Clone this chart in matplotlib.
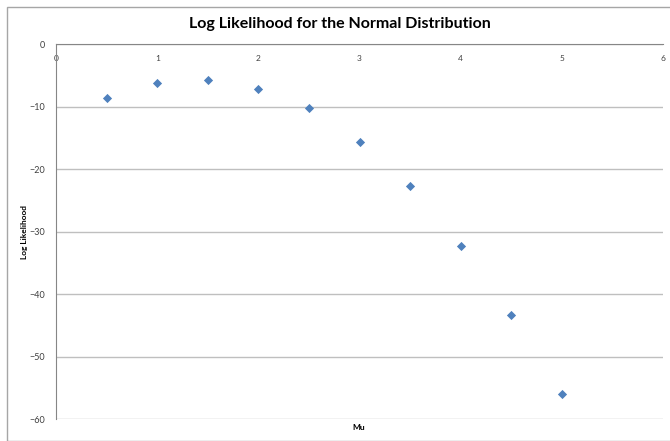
import matplotlib.pyplot as plt
from matplotlib.patches import Rectangle

# Dados
mu = [0.5, 1.0, 1.5, 2.0, 2.5, 3.0, 3.5, 4.0, 4.5, 5.0]
log_lik = [-8.64, -6.24, -5.81, -7.15, -10.29, -15.63, -22.72, -32.27, -43.36, -56.0]

plt.rcParams['font.family'] = ['Lato', 'DejaVu Sans']

fig = plt.figure(figsize=(6.7, 4.41), dpi=100)
W, H = 670, 441
ax = fig.add_axes([56.3 / W, 1 - 419.3 / H, (662.7 - 56.3) / W, (419.3 - 44) / H])

# borda externa do gráfico
fig.patches.append(Rectangle((6.5 / W, 0), 1, 1 - 6.5 / H, transform=fig.transFigure,
                             fill=False, edgecolor='#a6a6a6', linewidth=1.0))

ax.scatter(mu, log_lik, marker='D', s=22, color='#4F81BD', zorder=3, linewidths=0)

ax.set_xlim(0, 6)
ax.set_ylim(-60, 0)
ax.set_xticks(range(0, 7))
ax.set_yticks(range(-60, 1, 10))
ax.xaxis.tick_top()
# rótulos do eixo x ficam logo abaixo da linha y=0
ax.tick_params(axis='x', length=0, pad=-13, labelsize=6, colors='#404040')
ax.tick_params(axis='y', length=0, pad=8, labelsize=6.5, colors='#404040')
ax.yaxis.grid(True, color='#bfbfbf', linewidth=1.0)
ax.set_axisbelow(True)

for s in ['right', 'bottom']:
    ax.spines[s].set_visible(False)
ax.spines['top'].set_color('#868686')
ax.spines['left'].set_color('#868686')

fig.text(340 / W, 1 - 24 / H, 'Log Likelihood for the Normal Distribution',
         ha='center', va='center', fontsize=11.5, fontweight='bold')
fig.text(359 / W, 1 - 428 / H, 'Mu', ha='center', va='center', fontsize=6, fontweight='bold')
fig.text(24 / W, 1 - 232 / H, 'Log Likelihood', ha='center', va='center', rotation=90,
         fontsize=6, fontweight='bold')

plt.savefig('out.png', dpi=100)
